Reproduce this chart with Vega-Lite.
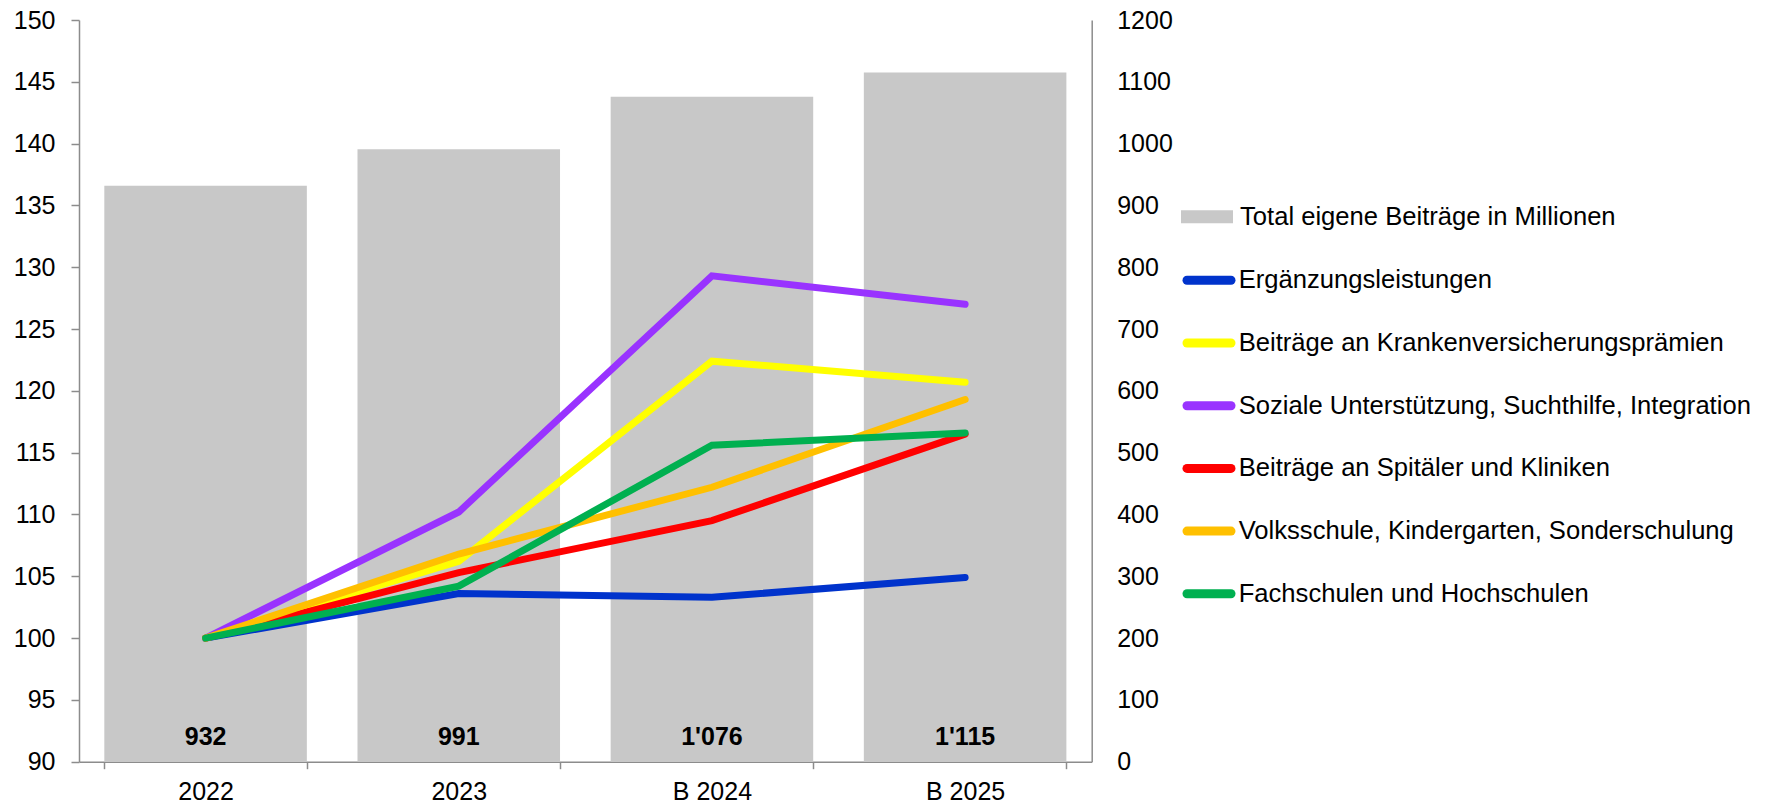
{
  "$schema": "https://vega.github.io/schema/vega-lite/v6.json",
  "width": 1012.7,
  "height": 741.7,
  "autosize": {"type": "none"},
  "padding": {"left": 79, "top": 20, "right": 696.3, "bottom": 44.3},
  "background": "white",
  "config": {
    "view": {"stroke": null},
    "font": "Liberation Sans",
    "axis": {"labelFont": "Liberation Sans", "labelFontSize": 25, "labelColor": "#000000", "domainColor": "#8c8c8c", "domainWidth": 1.5, "tickColor": "#8c8c8c", "tickWidth": 1.5, "grid": false, "title": null},
    "legend": {"labelFont": "Liberation Sans", "labelFontSize": 25.6, "labelColor": "#000000", "labelLimit": 800, "padding": 0, "title": null}
  },
  "datasets": {
    "bars": [
      {"year": "2022", "total": 932, "label": "932"},
      {"year": "2023", "total": 991, "label": "991"},
      {"year": "B 2024", "total": 1076, "label": "1'076"},
      {"year": "B 2025", "total": 1115, "label": "1'115"}
    ],
    "lines": [
      {"year": "2022", "series": "Ergänzungsleistungen", "value": 100},
      {"year": "2023", "series": "Ergänzungsleistungen", "value": 103.6},
      {"year": "B 2024", "series": "Ergänzungsleistungen", "value": 103.3},
      {"year": "B 2025", "series": "Ergänzungsleistungen", "value": 104.9},
      {"year": "2022", "series": "Beiträge an Krankenversicherungsprämien", "value": 100},
      {"year": "2023", "series": "Beiträge an Krankenversicherungsprämien", "value": 106.2},
      {"year": "B 2024", "series": "Beiträge an Krankenversicherungsprämien", "value": 122.4},
      {"year": "B 2025", "series": "Beiträge an Krankenversicherungsprämien", "value": 120.7},
      {"year": "2022", "series": "Soziale Unterstützung, Suchthilfe, Integration", "value": 100},
      {"year": "2023", "series": "Soziale Unterstützung, Suchthilfe, Integration", "value": 110.2},
      {"year": "B 2024", "series": "Soziale Unterstützung, Suchthilfe, Integration", "value": 129.3},
      {"year": "B 2025", "series": "Soziale Unterstützung, Suchthilfe, Integration", "value": 127.0},
      {"year": "2022", "series": "Beiträge an Spitäler und Kliniken", "value": 100},
      {"year": "2023", "series": "Beiträge an Spitäler und Kliniken", "value": 105.3},
      {"year": "B 2024", "series": "Beiträge an Spitäler und Kliniken", "value": 109.5},
      {"year": "B 2025", "series": "Beiträge an Spitäler und Kliniken", "value": 116.5},
      {"year": "2022", "series": "Volksschule, Kindergarten, Sonderschulung", "value": 100},
      {"year": "2023", "series": "Volksschule, Kindergarten, Sonderschulung", "value": 106.8},
      {"year": "B 2024", "series": "Volksschule, Kindergarten, Sonderschulung", "value": 112.2},
      {"year": "B 2025", "series": "Volksschule, Kindergarten, Sonderschulung", "value": 119.3},
      {"year": "2022", "series": "Fachschulen und Hochschulen", "value": 100},
      {"year": "2023", "series": "Fachschulen und Hochschulen", "value": 104.2},
      {"year": "B 2024", "series": "Fachschulen und Hochschulen", "value": 115.6},
      {"year": "B 2025", "series": "Fachschulen und Hochschulen", "value": 116.6}
    ]
  },
  "encoding": {
    "x": {
      "field": "year", "type": "nominal", "sort": null,
      "scale": {"paddingInner": 0.2, "paddingOuter": 0.1},
      "axis": {"orient": "bottom", "labelAngle": 0, "tickBand": "extent", "tickSize": 7, "labelPadding": 11}
    }
  },
  "layer": [
    {
      "data": {"name": "bars"},
      "mark": {"type": "bar", "color": "#c8c8c8"},
      "encoding": {
        "y": {"field": "total", "type": "quantitative", "scale": {"domain": [0, 1200], "nice": false}, "axis": {"orient": "right", "format": "d", "values": [0,100,200,300,400,500,600,700,800,900,1000,1100,1200], "ticks": false, "labelPadding": 25}},
        "fill": {"datum": "Total eigene Beiträge in Millionen", "type": "nominal", "scale": {"range": ["#c8c8c8"]}, "legend": {"orient": "none", "legendX": 1102, "legendY": 170.7, "symbolType": "M-1,-0.25H1V0.25H-1Z", "symbolSize": 2704, "symbolStrokeWidth": 0, "symbolOpacity": 1, "labelOffset": 7}}
      }
    },
    {
      "data": {"name": "bars"},
      "mark": {"type": "text", "fontWeight": "bold", "fontSize": 25, "baseline": "middle", "align": "center", "dy": -25, "color": "#000000"},
      "encoding": {
        "y": {"datum": 0, "type": "quantitative", "scale": {"domain": [0, 1200], "nice": false}, "axis": null},
        "text": {"field": "label"}
      }
    },
    {
      "data": {"name": "lines"},
      "mark": {"type": "line", "strokeWidth": 7, "strokeCap": "round", "strokeJoin": "miter"},
      "encoding": {
        "y": {"field": "value", "type": "quantitative", "scale": {"domain": [90, 150], "nice": false, "zero": false}, "axis": {"orient": "left", "values": [90,95,100,105,110,115,120,125,130,135,140,145,150], "tickSize": 8, "labelPadding": 16}},
        "stroke": {
          "field": "series", "type": "nominal",
          "scale": {
            "domain": ["Ergänzungsleistungen", "Beiträge an Krankenversicherungsprämien", "Soziale Unterstützung, Suchthilfe, Integration", "Beiträge an Spitäler und Kliniken", "Volksschule, Kindergarten, Sonderschulung", "Fachschulen und Hochschulen"],
            "range": ["#0033cc", "#ffff00", "#9933ff", "#ff0000", "#ffc000", "#00b050"]
          },
          "legend": {"orient": "none", "legendX": 1103.5, "legendY": 233.8, "symbolType": "stroke", "symbolSize": 1936, "symbolStrokeWidth": 9, "labelOffset": 3.2, "rowPadding": 17.7,
            "encode": {"symbols": {"update": {"strokeCap": {"value": "round"}}}}}
        }
      }
    }
  ],
  "resolve": {"scale": {"y": "independent"}, "axis": {"y": "independent"}}
}
